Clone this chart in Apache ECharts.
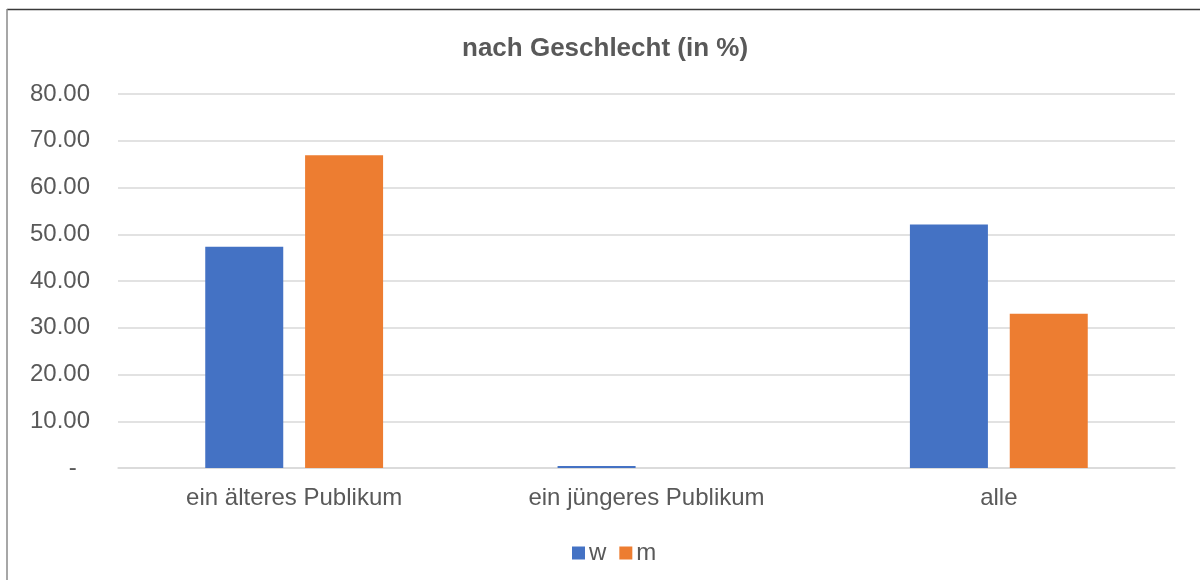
<!DOCTYPE html>
<html>
<head>
<meta charset="utf-8">
<script src="https://cdn.jsdelivr.net/npm/echarts@6/dist/echarts.min.js"></script>
<style>
  html, body { margin: 0; padding: 0; background: #ffffff; }
  #chart { width: 1200px; height: 580px; }
</style>
</head>
<body>
<div id="chart"></div>
<script>
// Audience groups on the category axis
const categories = ['ein älteres Publikum', 'ein jüngeres Publikum', 'alle'];
// Share per gender, in percent
const seriesNames = ['w', 'm'];
const valuesW = [47.3, 0.43, 52.1];
const valuesM = [66.9, 0, 33.0];
// Value axis range and step
const yMin = 0;
const yMax = 80;
const yStep = 10;

const FONT = '"Liberation Sans", Arial, Helvetica, sans-serif';
const TEXT = '#595959';

const chart = echarts.init(document.getElementById('chart'), null, { renderer: 'canvas' });

chart.setOption({
  backgroundColor: '#ffffff',
  animation: false,
  title: {
    text: 'nach Geschlecht (in %)',
    left: 457,
    top: 31,
    textStyle: { fontFamily: FONT, fontSize: 26, fontWeight: 'bold', color: TEXT }
  },
  legend: {
    data: seriesNames,
    left: 567,
    top: 536,
    itemWidth: 13,
    itemHeight: 13,
    itemGap: 13,
    icon: 'rect',
    textStyle: { fontFamily: FONT, fontSize: 24, color: TEXT, padding: [0, 0, 0, -1] }
  },
  grid: { left: 118, right: 25, top: 94, bottom: 112, containLabel: false },
  xAxis: {
    type: 'category',
    data: categories,
    axisLine: { show: true, lineStyle: { color: '#D9D9D9', width: 1.5 } },
    axisTick: { show: false },
    axisLabel: { fontFamily: FONT, fontSize: 24, color: TEXT, margin: 18 }
  },
  yAxis: {
    type: 'value',
    min: yMin,
    max: yMax,
    interval: yStep,
    axisLine: { show: false },
    axisTick: { show: false },
    splitLine: { lineStyle: { color: '#D9D9D9', width: 1.5 } },
    axisLabel: {
      fontFamily: FONT, fontSize: 24, color: TEXT, margin: 28,
      // accounting style: zero shown as a dash, set in from the right edge
      formatter: v => (v === 0 ? '-  ' : v.toFixed(2))
    }
  },
  series: [
    {
      name: seriesNames[0],
      type: 'bar',
      data: valuesW,
      barWidth: 78,
      barGap: '28%',
      itemStyle: { color: '#4472C4' }
    },
    {
      name: seriesNames[1],
      type: 'bar',
      data: valuesM,
      barWidth: 78,
      itemStyle: { color: '#ED7D31' }
    }
  ],
  graphic: [
    // chart frame: top and left edges
    { type: 'line', shape: { x1: 7, y1: 9.5, x2: 1200, y2: 9.5 }, style: { stroke: '#3a3a3a', lineWidth: 1.5 }, silent: true },
    { type: 'line', shape: { x1: 7, y1: 9, x2: 7, y2: 580 }, style: { stroke: '#8a8a8a', lineWidth: 1.5 }, silent: true }
  ]
});
</script>
</body>
</html>
